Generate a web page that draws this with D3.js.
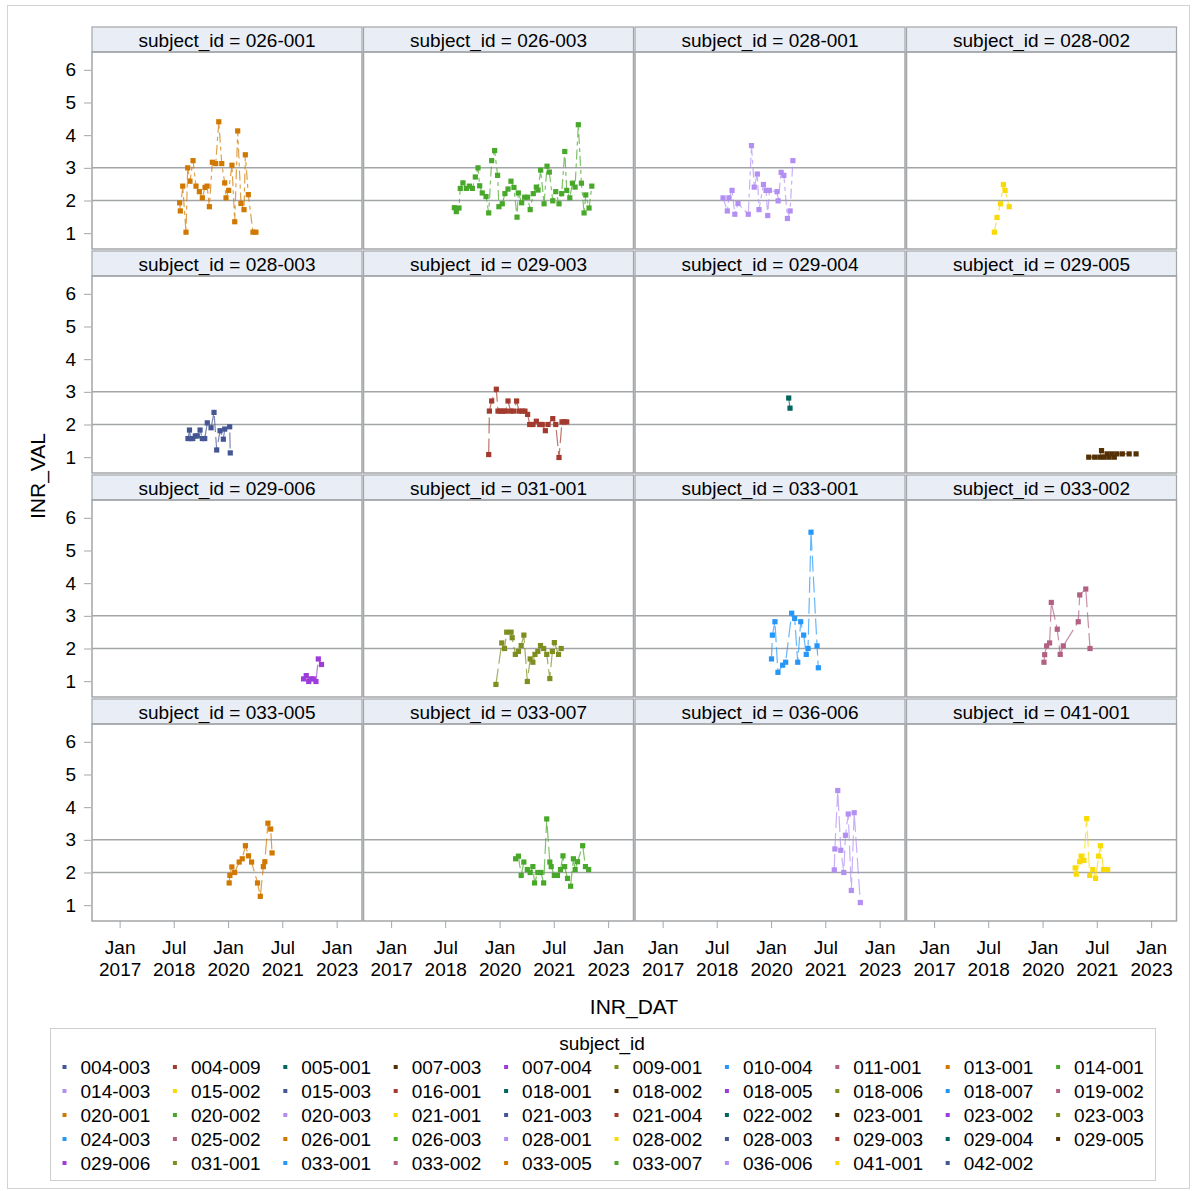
<!DOCTYPE html>
<html>
<head>
<meta charset="utf-8">
<script src="https://cdn.jsdelivr.net/npm/d3@7/dist/d3.min.js"></script>
<style>
  body { margin: 0; background: #fff; }
  svg { display: block; font-family: "Liberation Sans", Arial, sans-serif; }
</style>
</head>
<body>
<svg id="chart" width="1192" height="1191"></svg>
<script>
// ---- legend groups (all subjects), in group order ----
const subjects = [
  "004-003","004-009","005-001","007-003","007-004","009-001","010-004","011-001","013-001","014-001",
  "014-003","015-002","015-003","016-001","018-001","018-002","018-005","018-006","018-007","019-002",
  "020-001","020-002","020-003","021-001","021-003","021-004","022-002","023-001","023-002","023-003",
  "024-003","025-002","026-001","026-003","028-001","028-002","028-003","029-003","029-004","029-005",
  "029-006","031-001","033-001","033-002","033-005","033-007","036-006","041-001","042-002"
];

// group colours cycle through twelve; the dash pattern steps once per full colour cycle
const dataColors = ["#445694","#A23A2E","#01665E","#543005","#9D3CDB","#7F8E1F",
                    "#2597FA","#B26084","#D17800","#47A82A","#B38EF3","#F9DA04"];
const linePatterns = [null, "6 3", "10 4 4 4", "16 5", "12 4 2 4"];

// panels shown in the lattice
const panelIds = ["026-001","026-003","028-001","028-002",
                  "028-003","029-003","029-004","029-005",
                  "029-006","031-001","033-001","033-002",
                  "033-005","033-007","036-006","041-001"];

// x axis ticks and y axis ticks
const xTickDates = ["2017-01-01","2018-07-01","2020-01-01","2021-07-01","2023-01-01"];
const yTickValues = [1, 2, 3, 4, 5, 6];
const refValues = [2, 3];

// ---- INR measurements per subject: [INR_DAT, INR_VAL] ----
const inr_026_001 = [
  ["2018-08-30",1.93],["2018-09-06",1.68],["2018-09-30",2.44],["2018-11-02",1.03],["2018-11-19",3.0],
  ["2018-12-12",2.59],["2019-01-12",3.22],["2019-02-11",2.44],["2019-03-17",2.27],["2019-04-16",2.08],
  ["2019-05-13",2.40],["2019-06-03",2.44],["2019-06-26",1.81],["2019-07-26",3.17],["2019-08-29",3.13],
  ["2019-09-29",4.41],["2019-10-29",3.13],["2019-11-28",2.54],["2019-12-11",2.08],["2020-01-07",2.31],
  ["2020-02-09",3.08],["2020-03-08",1.35],["2020-04-07",4.13],["2020-05-10",1.91],["2020-06-10",1.72],
  ["2020-06-23",3.40],["2020-07-23",2.18],["2020-09-08",1.03],["2020-10-08",1.03]
];
const inr_026_003 = [
  ["2018-10-01",1.78],["2018-10-21",1.66],["2018-11-17",1.77],["2018-11-30",2.37],["2018-12-27",2.54],
  ["2019-01-30",2.37],["2019-03-02",2.44],["2019-04-01",2.37],["2019-05-01",2.72],["2019-05-28",3.0],
  ["2019-06-14",2.45],["2019-07-10",2.23],["2019-08-17",2.12],["2019-09-13",1.62],["2019-10-13",3.22],
  ["2019-11-12",3.53],["2019-12-12",2.77],["2019-12-25",1.81],["2020-01-28",1.90],["2020-02-24",2.21],
  ["2020-03-26",2.35],["2020-04-25",2.59],["2020-05-25",2.40],["2020-06-25",1.49],["2020-07-08",2.23],
  ["2020-08-11",1.93],["2020-09-10",2.10],["2020-10-10",2.10],["2020-11-05",1.72],["2020-12-06",2.21],
  ["2021-01-06",2.41],["2021-01-23",2.32],["2021-02-19",2.93],["2021-03-25",1.90],["2021-04-24",3.05],
  ["2021-05-17",2.87],["2021-06-21",1.99],["2021-07-21",2.27],["2021-08-23",1.90],["2021-09-19",2.21],
  ["2021-10-20",3.50],["2021-11-09",2.31],["2021-12-10",2.08],["2022-01-05",2.53],["2022-02-01",2.41],
  ["2022-03-06",4.32],["2022-04-06",2.53],["2022-05-03",1.62],["2022-05-20",2.17],["2022-06-22",1.77],
  ["2022-07-20",2.44]
];
const inr_028_001 = [
  ["2018-09-03",2.08],["2018-10-16",1.68],["2018-11-02",2.08],["2018-12-03",2.31],["2018-12-31",1.58],
  ["2019-02-01",1.91],["2019-05-16",1.58],["2019-06-17",3.68],["2019-07-15",2.41],["2019-08-15",2.81],
  ["2019-09-01",1.72],["2019-10-16",2.49],["2019-11-11",2.31],["2019-11-28",1.54],["2019-12-15",2.31],
  ["2020-03-01",2.27],["2020-03-12",1.99],["2020-04-12",2.86],["2020-05-09",2.77],["2020-06-14",1.45],
  ["2020-07-11",1.68],["2020-08-08",3.22]
];
const inr_028_002 = [
  ["2018-09-01",1.03],["2018-09-28",1.48],["2018-11-02",1.90],["2018-12-01",2.49],["2018-12-18",2.31],
  ["2019-01-29",1.81]
];
const inr_028_003 = [
  ["2018-11-22",1.57],["2018-12-07",1.83],["2018-12-19",1.57],["2019-01-09",1.57],["2019-02-04",1.65],
  ["2019-02-24",1.65],["2019-03-24",1.83],["2019-04-16",1.57],["2019-05-10",1.57],["2019-06-05",2.05],
  ["2019-07-13",1.90],["2019-08-12",2.37],["2019-09-08",1.22],["2019-10-12",1.81],["2019-11-14",1.55],
  ["2019-11-28",1.86],["2020-01-17",1.93],["2020-01-23",1.13]
];
const inr_029_003 = [
  ["2019-09-13",1.08],["2019-09-20",2.41],["2019-10-13",2.72],["2019-11-29",3.08],["2019-12-16",2.41],
  ["2020-01-10",2.41],["2020-02-04",2.41],["2020-03-02",2.41],["2020-03-26",2.72],["2020-04-22",2.41],
  ["2020-05-22",2.41],["2020-06-21",2.72],["2020-07-15",2.41],["2020-08-17",2.41],["2020-09-13",2.41],
  ["2020-10-10",2.31],["2020-10-31",2.0],["2020-12-03",2.0],["2021-01-06",2.10],["2021-02-09",2.0],
  ["2021-03-07",2.0],["2021-04-07",1.81],["2021-05-04",2.0],["2021-06-21",2.18],["2021-07-21",2.0],
  ["2021-08-23",0.99],["2021-09-22",2.08],["2021-10-16",2.08],["2021-11-09",2.08]
];
const inr_029_004 = [
  ["2020-06-27",2.81],["2020-07-10",2.50]
];
const inr_029_005 = [
  ["2021-04-11",1.0],["2021-06-10",1.0],["2021-08-01",1.0],["2021-08-18",1.2],["2021-09-14",1.0],
  ["2021-10-13",1.1],["2021-11-03",1.0],["2021-11-30",1.1],["2021-12-25",1.0],["2022-01-19",1.1],
  ["2022-03-16",1.1],["2022-05-24",1.1],["2022-08-02",1.1]
];
const inr_029_006 = [
  ["2022-02-01",1.07],["2022-02-28",1.17],["2022-03-25",0.99],["2022-04-15",1.07],["2022-05-10",1.07],
  ["2022-06-06",0.99],["2022-06-30",1.68],["2022-08-01",1.51]
];
const inr_031_001 = [
  ["2019-11-25",0.90],["2020-01-23",2.17],["2020-02-20",2.0],["2020-03-13",2.50],["2020-04-26",2.50],
  ["2020-05-07",2.33],["2020-06-08",1.82],["2020-07-09",1.91],["2020-08-06",2.09],["2020-09-02",2.41],
  ["2020-10-07",0.99],["2020-11-05",1.68],["2020-12-02",1.58],["2020-12-23",1.82],["2021-01-21",1.91],
  ["2021-02-17",2.09],["2021-03-21",2.0],["2021-04-21",1.82],["2021-05-22",1.08],["2021-06-17",1.91],
  ["2021-07-07",2.18],["2021-08-18",1.82],["2021-09-14",2.0]
];
const inr_033_001 = [
  ["2020-01-05",1.68],["2020-01-14",2.41],["2020-02-09",2.82],["2020-03-10",1.27],["2020-04-27",1.49],
  ["2020-05-27",1.58],["2020-07-27",3.08],["2020-08-26",2.92],["2020-09-26",1.58],["2020-10-26",2.82],
  ["2020-11-25",2.41],["2020-12-21",1.82],["2021-01-08",2.0],["2021-02-07",5.56],["2021-04-09",2.08],
  ["2021-04-22",1.41]
];
const inr_033_002 = [
  ["2020-01-15",1.58],["2020-01-22",1.81],["2020-02-11",2.08],["2020-03-12",2.17],["2020-03-29",3.41],
  ["2020-05-28",2.59],["2020-06-27",1.82],["2020-07-28",2.08],["2020-12-26",2.82],["2021-01-10",3.64],
  ["2021-03-12",3.82],["2021-04-24",2.0]
];
const inr_033_005 = [
  ["2020-01-12",1.68],["2020-01-19",1.91],["2020-02-08",2.17],["2020-03-07",2.0],["2020-04-22",2.32],
  ["2020-05-23",2.42],["2020-06-24",2.82],["2020-07-25",2.51],["2020-08-25",2.32],["2020-10-24",1.68],
  ["2020-11-21",1.27],["2020-12-22",2.18],["2021-01-06",2.33],["2021-02-06",3.51],["2021-03-06",3.33],
  ["2021-03-20",2.60]
];
const inr_033_007 = [
  ["2020-06-11",2.42],["2020-07-09",2.50],["2020-08-06",1.91],["2020-09-02",2.32],["2020-10-07",2.09],
  ["2020-11-05",2.0],["2020-12-02",2.18],["2020-12-19",1.68],["2021-01-21",2.0],["2021-02-21",2.0],
  ["2021-03-21",1.68],["2021-04-21",3.64],["2021-05-22",2.32],["2021-06-05",2.18],["2021-07-07",1.91],
  ["2021-08-07",1.91],["2021-09-07",2.09],["2021-10-02",2.51],["2021-10-19",2.18],["2021-11-17",1.82],
  ["2021-12-18",1.58],["2022-01-15",2.42],["2022-02-02",2.09],["2022-02-26",2.33],["2022-04-19",2.82],
  ["2022-05-17",2.18],["2022-06-18",2.09]
];
const inr_036_006 = [
  ["2021-09-30",2.08],["2021-10-06",2.72],["2021-11-04",4.51],["2021-12-05",2.68],["2022-01-04",2.0],
  ["2022-01-21",3.14],["2022-02-18",3.79],["2022-03-21",1.45],["2022-04-19",3.83],["2022-06-20",1.08]
];
const inr_041_001 = [
  ["2020-11-25",2.14],["2020-12-06",1.95],["2021-01-10",2.33],["2021-01-24",2.50],["2021-02-21",2.37],
  ["2021-03-21",3.65],["2021-04-21",1.91],["2021-05-22",2.09],["2021-06-19",1.82],["2021-07-20",2.50],
  ["2021-08-07",2.82],["2021-09-07",2.09],["2021-10-19",2.09]
];

const seriesBySubject = {
  "026-001": inr_026_001, "026-003": inr_026_003, "028-001": inr_028_001, "028-002": inr_028_002,
  "028-003": inr_028_003, "029-003": inr_029_003, "029-004": inr_029_004, "029-005": inr_029_005,
  "029-006": inr_029_006, "031-001": inr_031_001, "033-001": inr_033_001, "033-002": inr_033_002,
  "033-005": inr_033_005, "033-007": inr_033_007, "036-006": inr_036_006, "041-001": inr_041_001
};

// ---- layout ----
const svg = d3.select("#chart");
const parse = d3.timeParse("%Y-%m-%d");
const fmtMon = d3.timeFormat("%b"), fmtYear = d3.timeFormat("%Y");

const colLeft = [92, 363.5, 635, 906.5];
const rowTop = [52, 276, 500, 724];
const panelW = 270, panelH = 197, headerH = 25;
const frameColor = "#a3a6a9";
const textColor = "#000";

const x = d3.scaleTime()
  .domain([parse("2016-03-28"), parse("2023-09-14")])
  .range([0, panelW]);
const y = d3.scaleLinear().domain([0.5, 6.5]).range([panelH + 0.5, 1.5]);

const colorOf = id => dataColors[subjects.indexOf(id) % dataColors.length];
const dashOf = id => linePatterns[Math.floor(subjects.indexOf(id) / dataColors.length)];

// outer graph border
svg.append("rect")
  .attr("x", 7.5).attr("y", 5.5).attr("width", 1182).attr("height", 1183)
  .attr("fill", "none").attr("stroke", "#d3d3d3");

panelIds.forEach((id, i) => {
  const col = i % 4, row = Math.floor(i / 4);
  const g = svg.append("g").attr("transform", `translate(${colLeft[col]},${rowTop[row]})`);

  // header strip
  g.append("rect")
    .attr("x", 0).attr("y", -headerH).attr("width", panelW).attr("height", headerH)
    .attr("fill", "#e9edf5").attr("stroke", frameColor).attr("stroke-width", 1.2);
  g.append("text")
    .attr("x", panelW / 2).attr("y", -headerH / 2 + 7)
    .attr("text-anchor", "middle").attr("font-size", 19).attr("fill", textColor)
    .text(`subject_id = ${id}`);

  // reference lines
  g.selectAll("line.ref").data(refValues).join("line")
    .attr("class", "ref")
    .attr("x1", 0).attr("x2", panelW)
    .attr("y1", d => y(d)).attr("y2", d => y(d))
    .attr("stroke", frameColor).attr("stroke-width", 1.5);

  // series
  const pts = seriesBySubject[id].map(([d, v]) => ({ date: parse(d), value: v }));
  const color = colorOf(id);
  const line = d3.line().x(d => x(d.date)).y(d => y(d.value));
  g.append("path")
    .datum(pts)
    .attr("d", line)
    .attr("fill", "none")
    .attr("stroke", color)
    .attr("stroke-width", 1.2)
    .attr("stroke-opacity", 0.7)
    .attr("stroke-dasharray", dashOf(id));
  g.selectAll("rect.pt").data(pts).join("rect")
    .attr("class", "pt")
    .attr("x", d => x(d.date) - 2.6).attr("y", d => y(d.value) - 2.6)
    .attr("width", 5.2).attr("height", 5.2)
    .attr("fill", color);

  // frame
  g.append("rect")
    .attr("x", 0).attr("y", 0).attr("width", panelW).attr("height", panelH)
    .attr("fill", "none").attr("stroke", frameColor).attr("stroke-width", 1.5);

  // y axis on the first column
  if (col === 0) {
    const ya = g.append("g").call(d3.axisLeft(y).tickValues(yTickValues).tickSize(7).tickPadding(9).tickFormat(d3.format("d")));
    ya.select(".domain").remove();
    ya.selectAll(".tick line").attr("stroke", frameColor).attr("transform", "translate(-1,0)");
    ya.selectAll(".tick text").attr("font-size", 19).attr("fill", textColor)
      .attr("font-family", "Liberation Sans, Arial, sans-serif");
  }

  // x axis on the bottom row
  if (row === 3) {
    const xa = g.append("g").attr("transform", `translate(0,${panelH})`)
      .call(d3.axisBottom(x).tickValues(xTickDates.map(parse)).tickSize(7).tickFormat(""));
    xa.select(".domain").remove();
    xa.selectAll(".tick line").attr("stroke", frameColor);
    xa.selectAll(".tick").each(function(d) {
      const t = d3.select(this).append("text")
        .attr("text-anchor", "middle").attr("font-size", 19).attr("fill", textColor)
        .attr("font-family", "Liberation Sans, Arial, sans-serif");
      t.append("tspan").attr("x", 0).attr("y", 33).text(fmtMon(d));
      t.append("tspan").attr("x", 0).attr("y", 55).text(fmtYear(d));
    });
  }
});

// axis titles
svg.append("text")
  .attr("transform", "translate(45,476) rotate(-90)")
  .attr("text-anchor", "middle").attr("font-size", 21).attr("fill", textColor)
  .text("INR_VAL");
svg.append("text")
  .attr("x", 634).attr("y", 1014)
  .attr("text-anchor", "middle").attr("font-size", 21).attr("fill", textColor)
  .text("INR_DAT");

// legend
const lg = svg.append("g");
lg.append("rect")
  .attr("x", 50.5).attr("y", 1028.5).attr("width", 1105).attr("height", 152)
  .attr("fill", "none").attr("stroke", "#cfcfcf");
lg.append("text")
  .attr("x", 602).attr("y", 1050)
  .attr("text-anchor", "middle").attr("font-size", 19).attr("fill", textColor)
  .text("subject_id");
const items = lg.selectAll("g.item").data(subjects).join("g")
  .attr("class", "item")
  .attr("transform", (d, i) => `translate(${64.5 + (i % 10) * 110.4},${1067 + Math.floor(i / 10) * 24})`);
items.append("rect")
  .attr("x", -2).attr("y", -2).attr("width", 4).attr("height", 4)
  .attr("fill", d => colorOf(d));
items.append("text")
  .attr("x", 16).attr("y", 7)
  .attr("font-size", 19).attr("fill", textColor)
  .text(d => d);
</script>
</body>
</html>
